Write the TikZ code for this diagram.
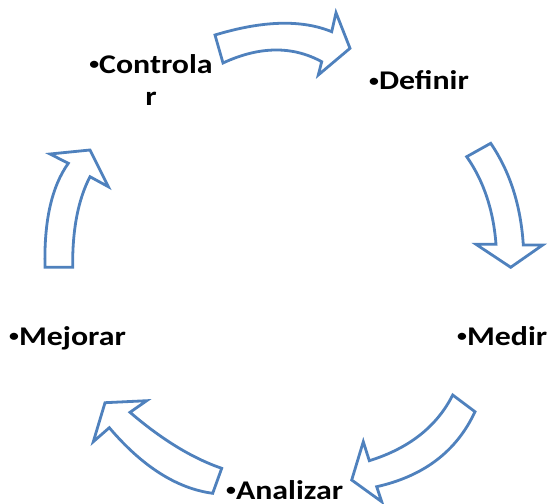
\documentclass[tikz,border=0pt]{standalone}
\usepackage{fontspec}
\setmainfont{Carlito}
\usetikzlibrary{calc}
\definecolor{arrowblue}{HTML}{4F81BD}
\tikzset{
  blockarrow/.style={draw=arrowblue, fill=white, line width=2.8pt, line join=miter},
  steplabel/.style={inner sep=0pt, font=\fontsize{27}{32}\selectfont\bfseries, anchor=base west}
}
\newcommand{\qcurve}[3]{.. controls ($(#1)!0.6667!(#2)$) and ($(#3)!0.6667!(#2)$) .. (#3)}
\newcommand{\smbul}{\raisebox{3.2pt}{\scalebox{0.62}{•}}}
\newcommand{\wide}[1]{\scalebox{1.18}[1]{#1}}
\begin{document}
\begin{tikzpicture}[x=1pt,y=-1pt]
\useasboundingbox (0,0) rectangle (548,503);
% arrow 1 (top)
\draw[blockarrow] (215,35) \qcurve{215,35}{286.65,13.25}{331.7,31.7}
  -- (336,12.7) -- (350,48.3) -- (318.3,75) -- (321.7,61.7)
  \qcurve{321.7,61.7}{277.65,37.65}{223,63} -- cycle;
% arrow 2 (right)
\draw[blockarrow] (490.7,143.3) \qcurve{490.7,143.3}{519.6,185.85}{523.3,245}
  -- (542.7,245) -- (510.7,267.3) -- (476,244.3) -- (496,244.3)
  \qcurve{496,244.3}{492.05,192.9}{466.7,156.7} -- cycle;
% arrow 3 (bottom right)
\draw[blockarrow] (475,411.7) \qcurve{475,411.7}{447.55,470.8}{376.7,486.7}
  -- (381.7,501.7) -- (351.7,480) -- (363.3,441.7) -- (369.3,460.7)
  \qcurve{369.3,460.7}{429,442.15}{452.7,395} -- cycle;
% arrow 4 (bottom left)
\draw[blockarrow] (221.7,468.3) \qcurve{221.7,468.3}{177.55,453.1}{130,412.3}
  -- (146.7,400.7) -- (105,402.7) -- (93.3,441.7) -- (109.3,427.7)
  \qcurve{109.3,427.7}{159,486.1}{212.7,493.3} -- cycle;
% arrow 5 (left)
\draw[blockarrow] (72.7,267.3) \qcurve{72.7,267.3}{72.05,211.4}{90,176.7}
  -- (108.3,186.7) -- (90,150) -- (50,154) -- (68.3,163.3)
  \qcurve{68.3,163.3}{43.35,198.1}{45,267.3} -- cycle;
% labels
\node[steplabel] (def) at (369,89.3) {\wide{\smbul Definir}};
\node[steplabel] (med) at (457,345) {\wide{\smbul Medir}};
\node[steplabel] (ana) at (226,499) {\wide{\smbul Analizar}};
\node[steplabel] (mej) at (9,345) {\wide{\smbul Mejorar}};
\node[steplabel, anchor=base, align=center] (ctl) at (151,105) {\wide{\smbul Controla}\\\wide{r}};
\end{tikzpicture}
\end{document}
